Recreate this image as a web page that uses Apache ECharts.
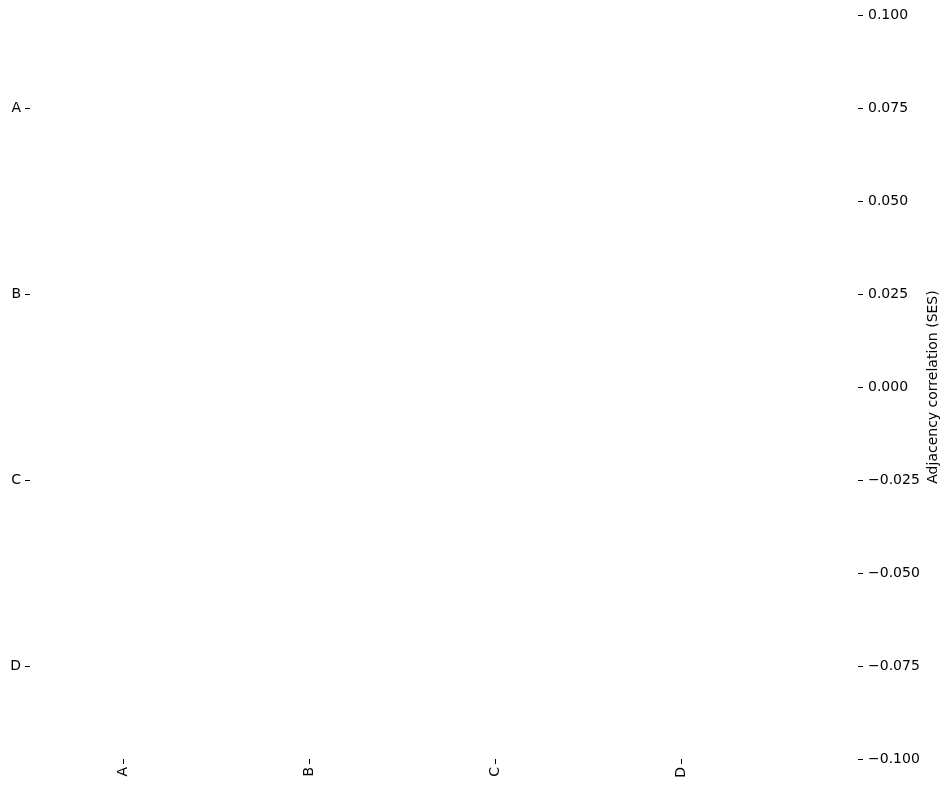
<!DOCTYPE html>
<html>
<head>
<meta charset="utf-8">
<script src="https://cdn.jsdelivr.net/npm/echarts@6/dist/echarts.min.js"></script>
<style>
  html, body { margin: 0; padding: 0; background: #fff; }
  #chart { width: 949px; height: 789px; }
</style>
</head>
<body>
<div id="chart"></div>
<script>
// every cell in the reference is empty (NaN), so nothing gets painted
const rowLabels = ['A', 'B', 'C', 'D']
const colLabels = ['A', 'B', 'C', 'D']
const values = [
  [null, null, null, null],
  [null, null, null, null],
  [null, null, null, null],
  [null, null, null, null]
]
const colorMin = -0.1
const colorMax = 0.1
const colorStep = 0.025
const colorLabel = 'Adjacency correlation (SES)'

const font = 'DejaVu Sans'
const cells = []
values.forEach((row, r) => {
  row.forEach((v, c) => {
    cells.push([c, r, v == null ? '-' : v])
  })
})

const fmt = v => {
  const s = v.toFixed(3)
  return s.replace('-', '\u2212')
}

const chart = echarts.init(document.getElementById('chart'))
chart.setOption({
  animation: false,
  backgroundColor: '#fff',
  textStyle: {fontFamily: font},
  grid: [
    {left: 30, top: 15, width: 744, height: 744},
    {left: 821, top: 15, width: 37, height: 744}
  ],
  xAxis: [{
    type: 'category',
    gridIndex: 0,
    data: colLabels,
    position: 'bottom',
    axisLine: {show: false},
    axisTick: {show: true, alignWithLabel: true, length: 5, lineStyle: {color: '#000'}},
    axisLabel: {rotate: 90, color: '#000', fontSize: 14, fontFamily: font, margin: 8},
    splitLine: {show: false}
  }, {
    type: 'category',
    gridIndex: 1,
    data: [''],
    show: false
  }],
  yAxis: [{
    type: 'category',
    gridIndex: 0,
    data: rowLabels,
    inverse: true,
    axisLine: {show: false},
    axisTick: {show: true, alignWithLabel: true, length: 5, lineStyle: {color: '#000'}},
    axisLabel: {color: '#000', fontSize: 14, fontFamily: font, margin: 9},
    splitLine: {show: false}
  }, {
    type: 'value',
    gridIndex: 1,
    position: 'right',
    min: colorMin,
    max: colorMax,
    interval: colorStep,
    axisLine: {show: false, onZero: false},
    axisTick: {show: true, length: 5, lineStyle: {color: '#000'}},
    axisLabel: {color: '#000', fontSize: 14, fontFamily: font, margin: 10, formatter: fmt},
    splitLine: {show: false},
    name: colorLabel,
    nameLocation: 'middle',
    nameRotate: 90,
    nameGap: 68,
    nameTextStyle: {color: '#000', fontSize: 14, fontFamily: font}
  }],
  visualMap: {
    show: false,
    min: colorMin,
    max: colorMax,
    seriesIndex: 0,
    inRange: {color: ['#3b4cc0', '#f7f7f7', '#b40426']}
  },
  series: [{
    type: 'heatmap',
    xAxisIndex: 0,
    yAxisIndex: 0,
    data: cells
  }]
})
</script>
</body>
</html>
